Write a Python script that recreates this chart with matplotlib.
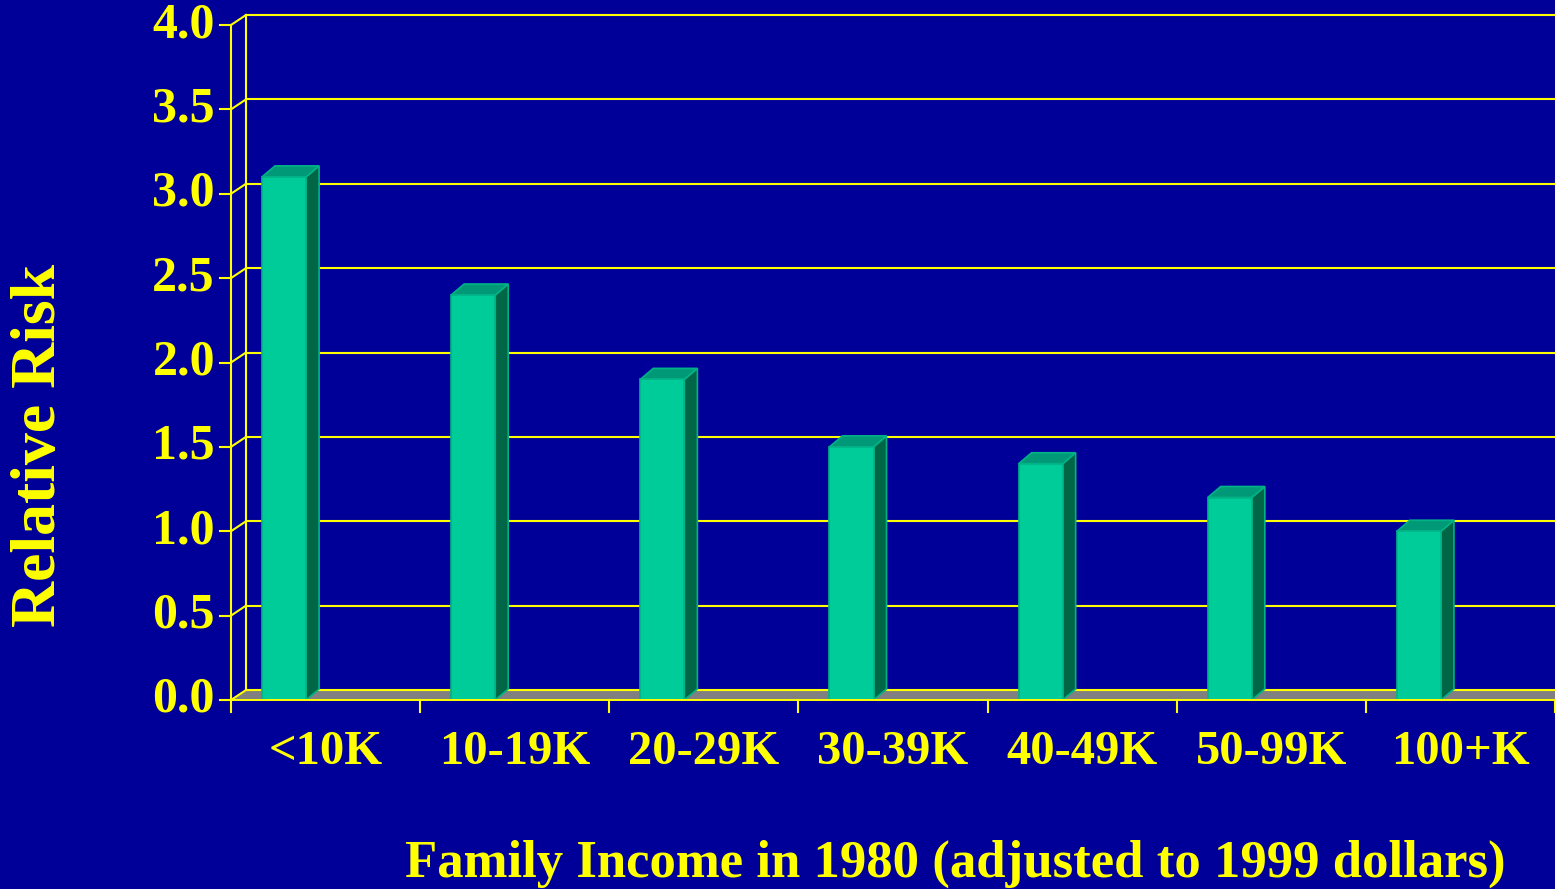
import numpy as np
import matplotlib.pyplot as plt
from matplotlib.patches import Polygon

# donnees
categories = ['<10K', '10-19K', '20-29K', '30-39K', '40-49K', '50-99K', '100+K']
risque = [3.1, 2.4, 1.9, 1.5, 1.4, 1.2, 1.0]
yticks = [0.0, 0.5, 1.0, 1.5, 2.0, 2.5, 3.0, 3.5, 4.0]

W, H = 1555, 889
bg = '#000099'
jaune = '#FFFF00'
vert_face = '#00CC99'
vert_cote = '#006646'
vert_haut = '#009977'
vert_bord = '#00B386'

plt.rcParams['font.family'] = ['Liberation Serif', 'DejaVu Serif']
plt.rcParams['font.weight'] = 'bold'

fig = plt.figure(figsize=(W / 100, H / 100), dpi=100, facecolor=bg)

# axes en pixels : x de 231 a 1555, y=0 a 700px, y=4 a 25px
px_x = (W - 231) / 7.0
px_y = 168.75
ax = fig.add_axes([231 / W, (H - 700) / H, (W - 231) / W, 685 / H])
ax.set_facecolor(bg)
ax.set_xlim(0, 7)
ax.set_ylim(0, 685 / px_y)
ax.axis('off')

# profondeur du mur
dx = 15 / px_x
dy = 10 / px_y

# sol gris
ax.add_patch(Polygon([(0, 0), (dx, dy), (7, dy), (7, 0)], closed=True,
                     facecolor='#808080', edgecolor='none', zorder=1))
ax.plot([dx, 7], [dy, dy], color=jaune, lw=1.4, zorder=2, clip_on=False)
ax.plot([0, 7], [0, 0], color=jaune, lw=1.4, zorder=6, clip_on=False)

# mur du fond + grille
ax.plot([dx, dx], [dy, 4 + dy], color=jaune, lw=1.5, zorder=2, clip_on=False)
ax.plot([0, 0], [0, 4], color=jaune, lw=1.5, zorder=2, clip_on=False)
for v in yticks:
    ax.plot([dx, 7], [v + dy, v + dy], color=jaune, lw=1.5, zorder=2, clip_on=False)
    ax.plot([0, dx], [v, v + dy], color=jaune, lw=1.5, zorder=2, clip_on=False)
    ax.plot([-11 / px_x, 0], [v, v], color=jaune, lw=1.5, zorder=2, clip_on=False)
    ax.text(-16 / px_x, v, f'{v:.1f}', color=jaune, fontsize=36, fontweight='bold',
            ha='right', va='center', zorder=5)

# ticks x
for i in range(8):
    ax.plot([i, i], [0, -12 / px_y], color=jaune, lw=1.5, zorder=6, clip_on=False)

# barres 3D
larg = 0.233
decal = 0.164
bdx = 13 / px_x
bdy = 11 / px_y
x0 = np.arange(len(categories)) + decal
ax.bar(x0, risque, width=larg, align='edge', color=vert_face,
       edgecolor=vert_bord, linewidth=1.2, zorder=4)
for x, v in zip(x0, risque):
    ax.add_patch(Polygon([(x + larg, 0), (x + larg + bdx, bdy), (x + larg + bdx, v + bdy), (x + larg, v)],
                         closed=True, facecolor=vert_cote, edgecolor=vert_bord, lw=1.2, zorder=3))
    ax.add_patch(Polygon([(x, v), (x + bdx, v + bdy), (x + larg + bdx, v + bdy), (x + larg, v)],
                         closed=True, facecolor=vert_haut, edgecolor=vert_bord, lw=1.2, zorder=3))

# etiquettes categories
for i, c in enumerate(categories):
    ax.text(i + 0.5, -52 / px_y, c, color=jaune, fontsize=35, fontweight='bold',
            ha='center', va='center', zorder=5)

fig.text(955 / W, 1 - 864 / H, 'Family Income in 1980 (adjusted to 1999 dollars)',
         color=jaune, fontsize=38, fontweight='bold', ha='center', va='center')
fig.text(40 / W, 1 - 445 / H, 'Relative Risk', color=jaune, fontsize=46,
         fontweight='bold', ha='center', va='center', rotation=90)

fig.savefig('out.png', dpi=100, facecolor=bg)
plt.close()
